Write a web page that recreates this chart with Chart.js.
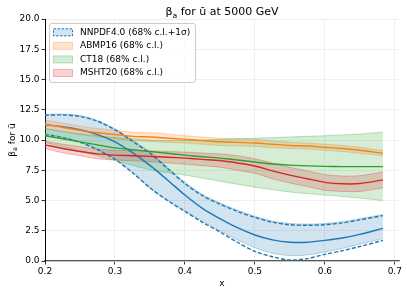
<!DOCTYPE html>
<html>
<head>
<meta charset="utf-8">
<script src="https://cdn.jsdelivr.net/npm/chart.js@4.4.1/dist/chart.umd.min.js"></script>
<style>
  html, body { margin: 0; padding: 0; background: #fff; }
  canvas { display: block; }
</style>
</head>
<body>
<canvas id="chart" width="407" height="294"></canvas>
<script>
// x grid of the curves
var xs = [0.2, 0.225, 0.25, 0.275, 0.3, 0.325, 0.35, 0.375, 0.4, 0.425,
          0.45, 0.475, 0.5, 0.525, 0.55, 0.575, 0.6, 0.625, 0.65, 0.683];

// NNPDF4.0
var nnpdfCentral = [11.25, 11.1, 10.85, 10.45, 9.85, 8.95, 7.9, 6.7, 5.45, 4.35,
                    3.5, 2.75, 2.15, 1.75, 1.55, 1.55, 1.7, 1.9, 2.2, 2.7];
var nnpdfHi = [12.12, 12.14, 12.02, 11.62, 10.92, 10.0, 9.0, 7.75, 6.5, 5.5,
               4.8, 4.2, 3.7, 3.3, 3.1, 3.05, 3.1, 3.25, 3.5, 3.85];
var nnpdfLo = [10.5, 10.25, 9.85, 9.25, 8.45, 7.35, 6.05, 5.05, 4.15, 3.3,
               2.5, 1.75, 1.1, 0.65, 0.45, 0.5, 0.75, 1.05, 1.4, 1.85];
var nnpdfUp1s = [12.05, 12.07, 11.95, 11.55, 10.85, 9.9, 8.9, 7.65, 6.4, 5.4,
                 4.7, 4.1, 3.6, 3.2, 3.0, 2.95, 3.0, 3.15, 3.4, 3.75];
var nnpdfDn1s = [10.45, 10.2, 9.8, 9.2, 8.4, 7.3, 6.05, 5.0, 4.1, 3.2,
                 2.4, 1.55, 0.8, 0.35, 0.08, 0.2, 0.55, 0.85, 1.2, 1.7];

// ABMP16
var abmpCentral = [11.3, 11.05, 10.8, 10.6, 10.45, 10.3, 10.25, 10.15, 10.05, 9.95,
                   9.85, 9.8, 9.75, 9.65, 9.55, 9.5, 9.4, 9.3, 9.15, 8.9];
var abmpHi = [11.65, 11.4, 11.15, 10.95, 10.8, 10.65, 10.6, 10.5, 10.35, 10.25,
              10.15, 10.1, 10.05, 9.93, 9.82, 9.75, 9.65, 9.55, 9.4, 9.12];
var abmpLo = [10.95, 10.7, 10.45, 10.25, 10.1, 9.95, 9.88, 9.8, 9.75, 9.65,
              9.55, 9.5, 9.47, 9.37, 9.3, 9.25, 9.15, 9.05, 8.9, 8.7];

// CT18
var ct18Central = [10.35, 10.1, 9.85, 9.6, 9.35, 9.2, 9.05, 8.9, 8.75, 8.62,
                   8.5, 8.35, 8.18, 8.02, 7.92, 7.86, 7.82, 7.8, 7.8, 7.8];
var ct18Hi = [10.95, 10.7, 10.5, 10.35, 10.2, 10.1, 10.0, 9.95, 9.95, 10.0,
              10.05, 10.1, 10.15, 10.2, 10.25, 10.3, 10.35, 10.42, 10.5, 10.65];
var ct18Lo = [9.8, 9.45, 9.1, 8.7, 8.3, 7.9, 7.55, 7.3, 7.1, 6.85,
              6.6, 6.35, 6.1, 5.9, 5.7, 5.57, 5.45, 5.33, 5.2, 5.0];

// MSHT20
var mshtCentral = [9.6, 9.3, 9.05, 8.85, 8.75, 8.7, 8.65, 8.58, 8.5, 8.4,
                   8.3, 8.1, 7.85, 7.45, 7.1, 6.8, 6.5, 6.38, 6.4, 6.7];
var mshtHi = [9.9, 9.65, 9.45, 9.25, 9.15, 9.12, 9.1, 9.05, 9.0, 8.92,
              8.85, 8.7, 8.45, 8.1, 7.75, 7.45, 7.15, 7.02, 7.05, 7.35];
var mshtLo = [9.3, 8.95, 8.7, 8.45, 8.35, 8.28, 8.2, 8.1, 8.0, 7.88,
              7.75, 7.5, 7.25, 6.8, 6.45, 6.15, 5.85, 5.75, 5.75, 6.05];

var seriesNames = ['NNPDF4.0 (68% c.l.+1\u03c3)', 'ABMP16 (68% c.l.)', 'CT18 (68% c.l.)', 'MSHT20 (68% c.l.)'];
var xTicks = [0.2, 0.3, 0.4, 0.5, 0.6, 0.7];
var yTicks = [0, 2.5, 5, 7.5, 10, 12.5, 15, 17.5, 20];

var FONT = 'DejaVu Sans';
var BLUE = [31, 119, 180], ORANGE = [255, 127, 14], GREEN = [44, 160, 44], RED = [214, 39, 40];

function rgba(c, a) {
    return 'rgba(' + c[0] + ',' + c[1] + ',' + c[2] + ',' + a + ')';
}
function pts(ys) {
    return ys.map(function(y, i) { return {x: xs[i], y: y}; });
}
function band(ys, c, fill, order) {
    return {
        data: pts(ys), borderColor: rgba(c, 0.3), borderWidth: 1,
        backgroundColor: rgba(c, 0.2), fill: fill, order: order
    };
}
function line(ys, c, dash, order) {
    return {
        data: pts(ys), borderColor: rgba(c, 1), borderWidth: 1.4,
        borderDash: dash || [], fill: false, order: order
    };
}

// draws text pieces, "sub" pieces as subscripts; x is the centre
function drawParts(ctx, parts, cx, baseY, size) {
    var widths = parts.map(function(p) {
        ctx.font = (p.sub ? size * 0.7 : size) + 'px "' + FONT + '"';
        return ctx.measureText(p.t).width;
    });
    var total = widths.reduce(function(a, b) { return a + b; }, 0),
        x = cx - total / 2;
    ctx.textAlign = 'left';
    ctx.textBaseline = 'alphabetic';
    parts.forEach(function(p, i) {
        ctx.font = (p.sub ? size * 0.7 : size) + 'px "' + FONT + '"';
        ctx.fillText(p.t, x, baseY + (p.sub ? size * 0.25 : 0));
        x += widths[i];
    });
}

var decor = {
    id: 'decor',
    afterDraw: function(chart) {
        var ctx = chart.ctx, area = chart.chartArea;
        ctx.save();
        ctx.fillStyle = '#000';
        var cx = (area.left + area.right) / 2;
        drawParts(ctx, [{t: '\u03b2'}, {t: 'a', sub: true}, {t: ' for \u016b at 5000 GeV'}], cx, 15, 11);
        drawParts(ctx, [{t: 'x'}], cx, 286, 9);

        ctx.save();
        ctx.translate(11, (area.top + area.bottom) / 2);
        ctx.rotate(-Math.PI / 2);
        drawParts(ctx, [{t: '\u03b2'}, {t: 'a', sub: true}, {t: ' for \u016b'}], 0, 3.5, 9);
        ctx.restore();

        // legend
        var bx = 49.5, by = 23.5, bw = 146, bh = 59, r = 2.5;
        ctx.beginPath();
        ctx.moveTo(bx + r, by);
        ctx.arcTo(bx + bw, by, bx + bw, by + bh, r);
        ctx.arcTo(bx + bw, by + bh, bx, by + bh, r);
        ctx.arcTo(bx, by + bh, bx, by, r);
        ctx.arcTo(bx, by, bx + bw, by, r);
        ctx.closePath();
        ctx.fillStyle = 'rgba(255,255,255,0.8)';
        ctx.fill();
        ctx.strokeStyle = '#cccccc';
        ctx.lineWidth = 1;
        ctx.stroke();

        var colors = [BLUE, ORANGE, GREEN, RED],
            rows = [32.3, 45.8, 59.4, 73];
        seriesNames.forEach(function(name, i) {
            var y = rows[i];
            ctx.fillStyle = rgba(colors[i], 0.2);
            ctx.fillRect(53.5, y - 3.5, 19, 7);
            if (i === 0) {
                ctx.setLineDash([2.5, 1.5]);
                ctx.strokeStyle = rgba(colors[i], 1);
            } else {
                ctx.setLineDash([]);
                ctx.strokeStyle = rgba(colors[i], 0.3);
            }
            ctx.strokeRect(53.5, y - 3.5, 19, 7);
            ctx.setLineDash([]);
            ctx.fillStyle = '#000';
            ctx.font = '9px "' + FONT + '"';
            ctx.textAlign = 'left';
            ctx.textBaseline = 'middle';
            ctx.fillText(name, 80, y);
        });
        ctx.restore();
    }
};

new Chart(document.getElementById('chart'), {
    type: 'line',
    data: {
        datasets: [
            band(nnpdfHi, BLUE, '+1', 20),
            band(nnpdfLo, BLUE, false, 19),
            band(abmpHi, ORANGE, '+1', 18),
            band(abmpLo, ORANGE, false, 17),
            band(ct18Hi, GREEN, '+1', 16),
            band(ct18Lo, GREEN, false, 15),
            band(mshtHi, RED, '+1', 14),
            band(mshtLo, RED, false, 13),
            line(nnpdfUp1s, BLUE, [4, 2], 8),
            line(nnpdfDn1s, BLUE, [4, 2], 7),
            line(nnpdfCentral, BLUE, null, 6),
            line(abmpCentral, ORANGE, null, 5),
            line(ct18Central, GREEN, null, 4),
            line(mshtCentral, RED, null, 3)
        ]
    },
    options: {
        responsive: false,
        animation: false,
        devicePixelRatio: 1,
        layout: {padding: {left: 0, right: 8, top: 19, bottom: 0}},
        elements: {
            point: {radius: 0, hoverRadius: 0},
            line: {tension: 0.3}
        },
        plugins: {legend: {display: false}, tooltip: {enabled: false}},
        scales: {
            x: {
                type: 'linear', min: 0.2, max: 0.706,
                afterBuildTicks: function(s) { s.ticks = xTicks.map(function(v) { return {value: v}; }); },
                afterFit: function(s) { s.height = 33; },
                ticks: {
                    font: {family: FONT, size: 9}, color: '#000', padding: 2, maxRotation: 0,
                    callback: function(v) { return v.toFixed(1); }
                },
                grid: {color: '#ebebeb', lineWidth: 0.8, tickLength: 3.5, tickColor: '#000', tickWidth: 0.8},
                border: {color: '#555', width: 1.2}
            },
            y: {
                min: 0, max: 20,
                afterBuildTicks: function(s) { s.ticks = yTicks.map(function(v) { return {value: v}; }); },
                afterFit: function(s) { s.width = 45; },
                ticks: {
                    font: {family: FONT, size: 9}, color: '#000', padding: 2,
                    callback: function(v) { return v.toFixed(1); }
                },
                grid: {color: '#ebebeb', lineWidth: 0.8, tickLength: 3.5, tickColor: '#000', tickWidth: 0.8},
                border: {color: '#000', width: 1}
            }
        }
    },
    plugins: [decor]
});
</script>
</body>
</html>
